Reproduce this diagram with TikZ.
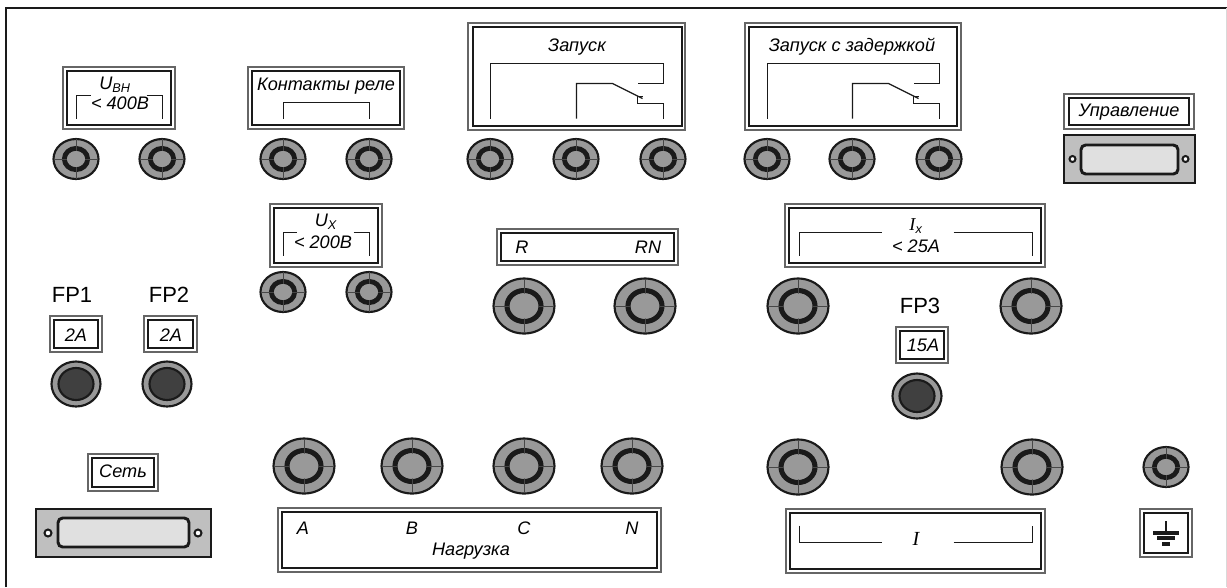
\documentclass[tikz,border=0pt]{standalone}
\usepackage{fontspec}
\setmainfont{Liberation Sans}
\newfontfamily\serifface{Liberation Serif}
\definecolor{jackgray}{HTML}{999999}
\definecolor{inkdark}{HTML}{1A1A1A}
\tikzset{
  panelline/.style={line width=1.9pt,draw=inkdark},
  frameout/.style={line width=0.8pt,draw=gray!80!black},
  framein/.style={line width=2.1pt,draw=inkdark},
  wire/.style={line width=1pt,draw=inkdark,xshift=0.375pt,yshift=-0.375pt},
  caption/.style={inner sep=0pt,font=\itshape\fontsize{13.6}{14}\selectfont},
  fusename/.style={inner sep=0pt,font=\fontsize{16.5}{17}\selectfont},
  plate/.style={line width=2.2pt,draw=inkdark,fill=black!25},
  slot/.style={line width=2.2pt,draw=inkdark,fill=black!12,rounded corners=3.5pt},
  hole/.style={line width=1.5pt,draw=inkdark,fill=white},
  jackbody/.style={line width=1.6pt,draw=inkdark,fill=jackgray},
  jackring/.style={line width=3.8pt,draw=inkdark,fill=jackgray},
  jacktick/.style={line width=0.2pt,draw=black!72},
  smalljack/.pic={
    \draw[jackbody] (0,0) ellipse (22.5 and 20);
    \draw[jackring] (0,0) ellipse (11.5 and 10.5);
    \draw[jacktick] (-22,0) -- (22,0);
    \draw[jacktick] (0,-20) -- (0,20);
    \fill[jackgray] (0,0) ellipse (9 and 8);
  },
  bigjack/.pic={
    \draw[jackbody] (0,0) ellipse (30.5 and 27.5);
    \draw[jackring] (0,0) ellipse (17 and 15.5);
    \draw[jacktick] (-30,0) -- (30,0);
    \draw[jacktick] (0,-27) -- (0,27);
    \fill[jackgray] (0,0) ellipse (14 and 12.5);
  },
  fuse/.pic={
    \draw[jackbody] (0,0) ellipse (24.5 and 22.5);
    \draw[line width=1.6pt,draw=inkdark,fill=black!75] (0,0) ellipse (17.5 and 16);
  },
}
\begin{document}
\begin{tikzpicture}[x=0.75pt,y=-0.75pt]
  \useasboundingbox (0,0) rectangle (1227,587);
  \fill[white] (0,0) rectangle (1227,587);

  % panel edge
  \draw[panelline] (6,587) -- (6,8) -- (1227,8);
  \draw[line width=0.75pt,draw=black!15] (1226,8) -- (1226,587);

  % top row
  \draw[frameout] (63,67) rectangle (175,129);
  \draw[framein] (67,71) rectangle (171,125);
  \draw[wire] (76,118) -- (76,95) -- (90,95);
  \draw[wire] (146,95) -- (162,95) -- (162,118);
  \node[caption] (uvn) at (115,85) {U\textsubscript{ВН}};
  \node[caption] (uvnmax) at (120,103) {< 400В};

  \draw[frameout] (248,67) rectangle (404,129);
  \draw[framein] (252,71) rectangle (400,125);
  \draw[wire] (283,118) -- (283,102) -- (369,102) -- (369,118);
  \node[caption] (relay) at (326,86) {Контакты реле};

  \draw[frameout] (468,23) rectangle (685,130);
  \draw[framein] (473,27) rectangle (682,126);
  \draw[wire] (490,118) -- (490,63) -- (663,63) -- (663,83) -- (637,83);
  \draw[wire] (576,118) -- (576,83) -- (612,83) -- (642,98);
  \draw[wire] (642,96) -- (637,96) -- (637,103) -- (663,103) -- (663,118);
  \node[caption] (start) at (577,47) {Запуск};

  \draw[frameout] (745,23) rectangle (961,130);
  \draw[framein] (749,27) rectangle (957,126);
  \draw[wire] (767,118) -- (767,63) -- (939,63) -- (939,83) -- (913,83);
  \draw[wire] (852,118) -- (852,83) -- (888,83) -- (918,98);
  \draw[wire] (918,96) -- (913,96) -- (913,103) -- (939,103) -- (939,118);
  \node[caption] (delay) at (852,47) {Запуск с задержкой};

  \pic at (76,159) {smalljack};
  \pic at (162,159) {smalljack};
  \pic at (283,159) {smalljack};
  \pic at (369,159) {smalljack};
  \pic at (490,159) {smalljack};
  \pic at (576,159) {smalljack};
  \pic at (663,159) {smalljack};
  \pic at (767,159) {smalljack};
  \pic at (852,159) {smalljack};
  \pic at (939,159) {smalljack};

  \draw[frameout] (1064,94) rectangle (1194,129);
  \draw[framein] (1069,98) rectangle (1189,125);
  \node[caption] (control) at (1129,112) {Управление};
  \draw[plate] (1064,135) rectangle (1195,183);
  \draw[slot] (1081,145) rectangle (1178,174);
  \draw[hole] (1072.5,159) circle (3);
  \draw[hole] (1185.5,159) circle (3);

  % middle row
  \draw[frameout] (270,204) rectangle (382,267);
  \draw[framein] (274,208) rectangle (378,263);
  \draw[wire] (283,255) -- (283,232) -- (296,232);
  \draw[wire] (353,232) -- (369,232) -- (369,255);
  \node[caption] (ux) at (326,222) {U\textsubscript{X}};
  \node[caption] (uxmax) at (323,242) {< 200В};
  \pic at (283,292) {smalljack};
  \pic at (369,292) {smalljack};

  \draw[frameout] (497,229) rectangle (678,265);
  \draw[framein] (501,233) rectangle (674,261);
  \node[caption] (rleft) at (522,247) {R};
  \node[caption] (rn) at (648,247) {RN};
  \pic at (524,306) {bigjack};
  \pic at (645,306) {bigjack};

  \draw[frameout] (785,204) rectangle (1045,267);
  \draw[framein] (789,208) rectangle (1041,263);
  \draw[wire] (799,255) -- (799,232) -- (881,232);
  \draw[wire] (953,232) -- (1032,232) -- (1032,255);
  \node[caption] (ix) at (916,226) {{\serifface I}\textsubscript{x}};
  \node[caption] (ixmax) at (916,246) {< 25А};
  \pic at (798,306) {bigjack};
  \pic at (1031,306) {bigjack};

  % fuses
  \node[fusename] (fpone) at (72,295) {FP1};
  \draw[frameout] (50,316) rectangle (102,352);
  \draw[framein] (54,320) rectangle (98,348);
  \node[caption] (fponeval) at (76,335) {2А};
  \pic at (76,384) {fuse};

  \node[fusename] (fptwo) at (169,295) {FP2};
  \draw[frameout] (144,316) rectangle (197,352);
  \draw[framein] (148,320) rectangle (193,348);
  \node[caption] (fptwoval) at (171,335) {2А};
  \pic at (167,384) {fuse};

  \node[fusename] (fpthree) at (920,306) {FP3};
  \draw[frameout] (896,327) rectangle (948,363);
  \draw[framein] (900,331) rectangle (944,359);
  \node[caption] (fpthreeval) at (923,345) {15А};
  \pic at (917,396) {fuse};

  % bottom row
  \draw[frameout] (88,454) rectangle (158,491);
  \draw[framein] (92,458) rectangle (154,487);
  \node[caption] (mains) at (123,471) {Сеть};
  \draw[plate] (36,509) rectangle (211,557);
  \draw[slot] (58,518) rectangle (189,547);
  \draw[hole] (48,533) circle (3.5);
  \draw[hole] (198,533) circle (3.5);

  \pic at (304,466) {bigjack};
  \pic at (412,466) {bigjack};
  \pic at (524,466) {bigjack};
  \pic at (632,466) {bigjack};
  \pic at (798,467) {bigjack};
  \pic at (1032,467) {bigjack};
  \pic at (1166,467) {smalljack};

  \draw[frameout] (278,508) rectangle (661,572);
  \draw[framein] (282,512) rectangle (657,568);
  \node[caption] (pha) at (303,528) {A};
  \node[caption] (phb) at (412,528) {B};
  \node[caption] (phc) at (524,528) {C};
  \node[caption] (phn) at (632,528) {N};
  \node[caption] (load) at (471,551) {Нагрузка};

  \draw[frameout] (786,509) rectangle (1045,573);
  \draw[framein] (790,513) rectangle (1041,569);
  \draw[wire] (799,525) -- (799,542) -- (881,542);
  \draw[wire] (953,542) -- (1032,542) -- (1032,525);
  \node[caption,font=\serifface\itshape\fontsize{15}{16}\selectfont] (current) at (916,539) {I};

  % earth
  \draw[frameout] (1140,509) rectangle (1192,557);
  \draw[framein] (1144,513) rectangle (1188,553);
  \draw[line width=2pt,draw=inkdark] (1166,521) -- (1166,533);
  \draw[line width=2.4pt,draw=inkdark] (1153,533) -- (1179,533);
  \draw[line width=2.4pt,draw=inkdark] (1157,538) -- (1175,538);
  \draw[line width=2.4pt,draw=inkdark] (1162,544) -- (1170,544);
\end{tikzpicture}
\end{document}
